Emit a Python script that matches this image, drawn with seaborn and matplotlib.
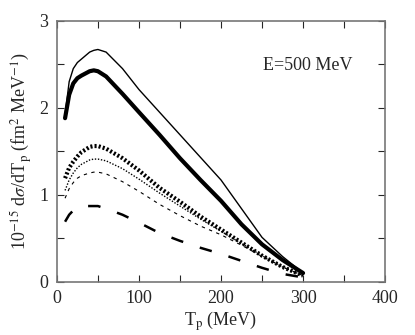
import matplotlib
matplotlib.use("Agg")
import matplotlib.pyplot as plt
import seaborn as sns
import numpy as np
from matplotlib.ticker import MultipleLocator

sns.set_style("ticks")
plt.rcParams['font.family'] = ['Liberation Serif', 'DejaVu Serif']
plt.rcParams['mathtext.fontset'] = 'stix'

# proton kinetic energy (MeV)
tp = [10, 15, 20, 25, 30, 40, 45, 50, 60, 80, 100, 125, 150, 175, 200, 225, 250, 275, 300]

# cross sections, 10^-15 fm^2/MeV
thin_solid  = [1.92, 2.30, 2.45, 2.52, 2.56, 2.64, 2.66, 2.67, 2.64, 2.45, 2.21, 1.95, 1.69, 1.43, 1.17, 0.84, 0.51, 0.29, 0.10]
thick_solid = [1.88, 2.15, 2.28, 2.34, 2.37, 2.42, 2.43, 2.42, 2.36, 2.16, 1.95, 1.69, 1.42, 1.17, 0.93, 0.66, 0.43, 0.25, 0.10]
thick_dot   = [1.19, 1.31, 1.38, 1.44, 1.49, 1.55, 1.56, 1.56, 1.53, 1.42, 1.28, 1.08, 0.92, 0.75, 0.60, 0.45, 0.30, 0.17, 0.07]
thin_dot    = [1.05, 1.17, 1.25, 1.31, 1.35, 1.40, 1.41, 1.41, 1.39, 1.30, 1.18, 1.02, 0.87, 0.72, 0.58, 0.44, 0.30, 0.17, 0.07]
thin_dash   = [0.96, 1.07, 1.14, 1.19, 1.22, 1.25, 1.26, 1.26, 1.24, 1.15, 1.04, 0.89, 0.76, 0.64, 0.54, 0.42, 0.29, 0.17, 0.07]
thick_dash  = [0.69, 0.77, 0.82, 0.85, 0.87, 0.87, 0.87, 0.87, 0.84, 0.77, 0.68, 0.56, 0.47, 0.39, 0.32, 0.24, 0.16, 0.09, 0.05]

fig, ax = plt.subplots(figsize=(4.15, 3.35), dpi=100)
fig.subplots_adjust(left=0.137, right=0.928, top=0.938, bottom=0.159)

styles = [
    (thin_solid, 1.0, '-'),
    (thick_solid, 3.0, '-'),
    (thick_dot, 3.0, (0, (0.5, 0.5))),
    (thin_dot, 1.0, (0, (1, 1.2))),
    (thin_dash, 0.8, (0, (3, 4))),
    (thick_dash, 1.8, (0, (5, 7))),
]
for vals, lw, ls in styles:
    sns.lineplot(x=tp, y=vals, ax=ax, color='black', linewidth=lw, linestyle=ls)

ax.set_xlim(0, 400)
ax.set_ylim(0, 3)
ax.xaxis.set_major_locator(MultipleLocator(100))
ax.xaxis.set_minor_locator(MultipleLocator(50))
ax.yaxis.set_major_locator(MultipleLocator(1))
ax.yaxis.set_minor_locator(MultipleLocator(0.5))
ax.tick_params(which='both', direction='in', top=True, right=True, labelsize=13, length=5, width=0.8, pad=6)
for sp in ax.spines.values():
    sp.set_color('#777777')
    sp.set_linewidth(1.2)

ax.set_xlabel(r"T$_\mathrm{p}$ (MeV)", fontsize=13, labelpad=2)
ax.set_ylabel(r"10$^{-15}$ d$\sigma$/dT$_\mathrm{p}$ (fm$^2$ MeV$^{-1}$)", fontsize=13, labelpad=4)
ax.text(251, 2.49, "E=500 MeV", fontsize=13, va='center')

fig.savefig("out.png", dpi=100)
